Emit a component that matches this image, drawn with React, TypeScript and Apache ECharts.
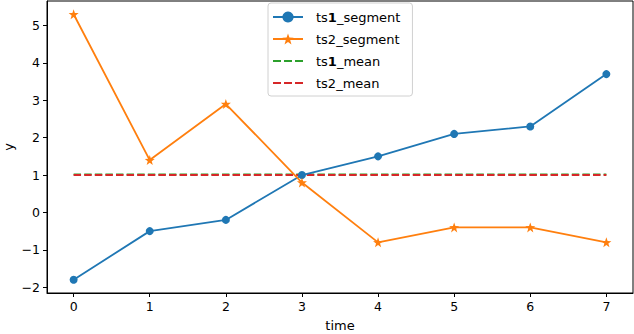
import React, { useEffect, useRef } from "react";
import * as echarts from "echarts";

const times = [0, 1, 2, 3, 4, 5, 6, 7];
const ts1Segment = [-1.8, -0.5, -0.2, 1.0, 1.5, 2.1, 2.3, 3.7];
const ts2Segment = [5.3, 1.4, 2.9, 0.8, -0.8, -0.4, -0.4, -0.8];
const ts1Mean = [1.0125, 1.0125];
const ts2Mean = [1.0, 1.0];
const meanTimes = [0, 7];
const xTicks = [0, 1, 2, 3, 4, 5, 6, 7];
const yTicks = [-2, -1, 0, 1, 2, 3, 4, 5];

const STAR =
  "path://M0,-10 L2.35,-3.24 L9.51,-3.09 L3.8,1.24 L5.88,8.09 L0,4 L-5.88,8.09 L-3.8,1.24 L-9.51,-3.09 L-2.35,-3.24 Z";
const DASH_ICON = "path://M0,0h8v2.2h-8z M11,0h8v2.2h-8z M22,0h8v2.2h-8z";

const FONT = "DejaVu Sans";

export default function App() {
  const ref = useRef<HTMLDivElement>(null);
  useEffect(() => {
    const chart = echarts.init(ref.current!, null, { renderer: "svg" });
    const fmt = (v: number) => String(v).replace("-", "\u2212");
    chart.setOption({
      animation: false,
      textStyle: { fontFamily: FONT },
      grid: {
        left: 47,
        right: 1,
        top: 1,
        bottom: 41,
        outerBoundsMode: "none",
        containLabel: false,
        show: true,
        borderColor: "#000",
        borderWidth: 1,
      },
      legend: {
        orient: "vertical",
        left: 268,
        top: 3,
        itemWidth: 30,
        itemHeight: 14,
        itemGap: 8,
        padding: [7, 12, 6, 4],
        borderColor: "#d0d0d0",
        borderWidth: 1,
        borderRadius: 3,
        formatter: (name: string) => name.replace("1", "{b|1}"),
        textStyle: {
          fontFamily: FONT,
          fontSize: 13,
          color: "#000",
          lineHeight: 14,
          padding: [0, 0, 0, 8],
          rich: {
            b: { fontFamily: FONT, fontSize: 13, fontWeight: "bold", color: "#000" },
          },
        },
        data: [
          { name: "ts1_segment" },
          { name: "ts2_segment" },
          { name: "ts1_mean", icon: DASH_ICON },
          { name: "ts2_mean", icon: DASH_ICON },
        ],
      },
      xAxis: {
        type: "value",
        min: -0.35,
        max: 7.35,
        name: "time",
        nameLocation: "middle",
        nameGap: 26,
        nameTextStyle: { fontFamily: FONT, fontSize: 13, color: "#000" },
        splitLine: { show: false },
        axisLine: { show: true, onZero: false, lineStyle: { color: "#000", width: 1 } },
        axisTick: {
          show: true,
          length: 4,
          customValues: xTicks,
          lineStyle: { color: "#000" },
        },
        axisLabel: {
          customValues: xTicks,
          formatter: fmt,
          fontFamily: FONT,
          fontSize: 12.5,
          color: "#000",
          margin: 7,
        },
      },
      yAxis: {
        type: "value",
        min: -2.155,
        max: 5.655,
        name: "y",
        nameLocation: "middle",
        nameGap: 32,
        nameMoveOverlap: false,
        nameTextStyle: { fontFamily: FONT, fontSize: 13, color: "#000" },
        splitLine: { show: false },
        axisLine: { show: true, onZero: false, lineStyle: { color: "#000", width: 1 } },
        axisTick: {
          show: true,
          length: 4,
          customValues: yTicks,
          lineStyle: { color: "#000" },
        },
        axisLabel: {
          customValues: yTicks,
          formatter: fmt,
          fontFamily: FONT,
          fontSize: 12.5,
          color: "#000",
          margin: 7,
        },
      },
      series: [
        {
          name: "ts1_segment",
          type: "line",
          data: times.map((t, i) => [t, ts1Segment[i]]),
          color: "#1f77b4",
          symbol: "circle",
          symbolSize: 8,
          showAllSymbol: true,
          lineStyle: { width: 1.8, color: "#1f77b4" },
          itemStyle: { color: "#1f77b4" },
          z: 3,
        },
        {
          name: "ts2_segment",
          type: "line",
          data: times.map((t, i) => [t, ts2Segment[i]]),
          color: "#ff7f0e",
          symbol: STAR,
          symbolSize: 10,
          showAllSymbol: true,
          lineStyle: { width: 1.8, color: "#ff7f0e" },
          itemStyle: { color: "#ff7f0e" },
          z: 4,
        },
        {
          name: "ts1_mean",
          type: "line",
          data: meanTimes.map((t, i) => [t, ts1Mean[i]]),
          color: "#2ca02c",
          symbol: "none",
          lineStyle: { width: 2, type: [7.4, 3.2], color: "#2ca02c" },
          z: 2,
        },
        {
          name: "ts2_mean",
          type: "line",
          data: meanTimes.map((t, i) => [t, ts2Mean[i]]),
          color: "#d62728",
          symbol: "none",
          lineStyle: { width: 2, type: [7.4, 3.2], color: "#d62728" },
          z: 2,
        },
      ],
    });
    return () => chart.dispose();
  }, []);
  return <div ref={ref} style={{ width: 634, height: 334, position: "absolute", left: 0, top: 0 }} />;
}
